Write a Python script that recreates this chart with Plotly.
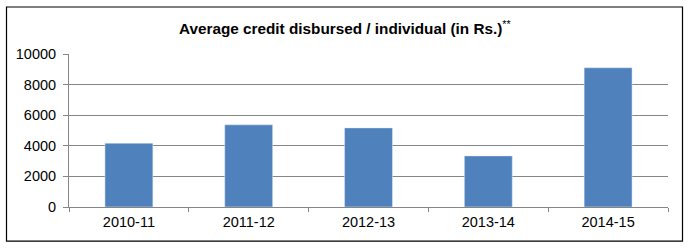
import plotly.graph_objects as go

categories = ["2010-11", "2011-12", "2012-13", "2013-14", "2014-15"]
values = [4170, 5370, 5170, 3340, 9100]
y_ticks = [0, 2000, 4000, 6000, 8000, 10000]
y_tick_labels = ["0", "2000", "4000", "6000", "8000", "10000"]

fig = go.Figure(go.Bar(x=categories, y=values, marker_color="#4F81BD", width=0.4))

L, R, T, B = 69, 668, 53.7, 207.3
def px(x): return (x - L) / (R - L)
def py(y): return (B - y) / (B - T)

fig.update_layout(
    width=690, height=250,
    margin=dict(l=L, r=690 - R, t=T, b=250 - B, pad=0),
    paper_bgcolor="white", plot_bgcolor="white",
    font=dict(family="Liberation Sans, Arial", size=14.5, color="black"),
    showlegend=False,
    bargap=0.6,
    shapes=[dict(type="rect", xref="paper", yref="paper",
                 x0=px(6.5), x1=px(682.5), y0=py(241.5), y1=py(6.5),
                 line=dict(color="black", width=1.2), layer="below")],
    annotations=[dict(text="<b>Average credit disbursed / individual (in Rs.)</b><sup>**</sup>",
                      xref="paper", yref="paper", x=px(345), y=py(27),
                      xanchor="center", yanchor="middle", showarrow=False,
                      font=dict(size=15.3, color="black"))],
)
fig.update_xaxes(type="category", showline=True, linecolor="#868686", linewidth=1,
                 ticks="outside", tickson="boundaries", ticklen=4, tickcolor="#868686",
                 showgrid=False, tickfont=dict(size=14.5), ticklabelstandoff=2)
fig.update_yaxes(range=[0, 10000], tickvals=y_ticks, ticktext=y_tick_labels,
                 showline=True, linecolor="#868686",
                 linewidth=1, ticks="outside", ticklen=5, tickcolor="#868686",
                 showgrid=True, gridcolor="#868686", gridwidth=1, zeroline=False,
                 tickfont=dict(size=14.5), ticklabelstandoff=4)
fig.write_html("out.html")
